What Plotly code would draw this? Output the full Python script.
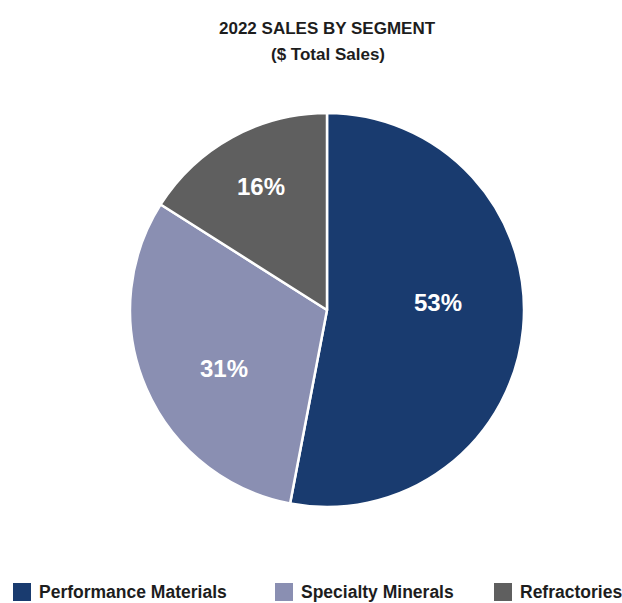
import math
import plotly.graph_objects as go

# Segment sales share, 2022 (% of total sales)
segments = ["Performance Materials", "Specialty Minerals", "Refractories"]
shares = [53, 31, 16]
colors = ["#193b6f", "#8a8fb2", "#5f5f5f"]

title_lines = ["2022 SALES BY SEGMENT", "($ Total Sales)"]

W, H = 622, 603
CX, CY, R = 327, 310, 197          # pie centre and radius in pixels
INK = "#1d1d1d"
SANS = "Liberation Sans, Arial, sans-serif"

# Where each slice label sits: (angular nudge from slice middle in degrees, radius fraction)
label_place = [(-9.5, 0.565), (-6.4, 0.60), (0.8, 0.71)]
# Legend entry left edges in pixels
legend_x = [13, 275, 494]


def px_to_paper(x, y):
    return x / W, 1 - y / H


fig = go.Figure(
    go.Pie(
        labels=segments,
        values=shares,
        sort=False,
        direction="clockwise",
        rotation=0,
        marker=dict(colors=colors, line=dict(color="white", width=2.5)),
        textinfo="none",
        hoverinfo="label+percent",
        showlegend=False,
        domain=dict(
            x=[(CX - R) / W, (CX + R) / W],
            y=[1 - (CY + R) / H, 1 - (CY - R) / H],
        ),
    )
)

annotations = []
shapes = []

# Percentage labels, placed along each slice's middle angle
total = sum(shares)
start = 0.0
for val, (nudge, frac) in zip(shares, label_place):
    span = 360.0 * val / total
    mid = math.radians(start + span / 2 + nudge)
    start += span
    lx = CX + frac * R * math.sin(mid)
    ly = CY - frac * R * math.cos(mid)
    px, py = px_to_paper(lx, ly)
    annotations.append(dict(
        x=px, y=py, xref="paper", yref="paper", xanchor="center", yanchor="middle",
        text=f"<b>{val}%</b>", showarrow=False,
        font=dict(family=SANS, size=24, color="white"),
    ))

# Two-line title
for text, ty in zip(title_lines, [28, 54]):
    px, py = px_to_paper(328, ty)
    annotations.append(dict(
        x=px, y=py, xref="paper", yref="paper", xanchor="center", yanchor="middle",
        text=f"<b>{text}</b>", showarrow=False,
        font=dict(family=SANS, size=17, color=INK),
    ))

# Legend: coloured squares with segment names
LEG_Y, SQ = 592, 18
for name, col, x0 in zip(segments, colors, legend_x):
    shapes.append(dict(
        type="rect", xref="paper", yref="paper",
        x0=x0 / W, x1=(x0 + SQ) / W,
        y0=1 - (LEG_Y + SQ / 2) / H, y1=1 - (LEG_Y - SQ / 2) / H,
        fillcolor=col, line=dict(width=0),
    ))
    px, py = px_to_paper(x0 + SQ + 6, LEG_Y)
    annotations.append(dict(
        x=px, y=py, xref="paper", yref="paper", xanchor="left", yanchor="middle",
        text=f"<b>{name}</b>", showarrow=False,
        font=dict(family=SANS, size=17.5, color=INK),
    ))

fig.update_layout(
    width=W,
    height=H,
    margin=dict(l=0, r=0, t=0, b=0),
    paper_bgcolor="white",
    plot_bgcolor="white",
    showlegend=False,
    annotations=annotations,
    shapes=shapes,
)

fig.write_html("out.html")
